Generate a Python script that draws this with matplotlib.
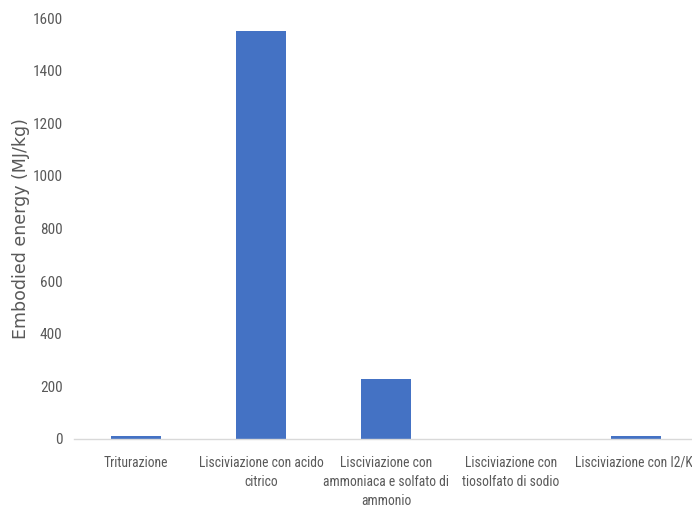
import matplotlib.pyplot as plt
from matplotlib import font_manager
import numpy as np

# embodied energy per process step
categories = [
    'Triturazione',
    'Lisciviazione con acido\ncitrico',
    'Lisciviazione con\nammoniaca e solfato di\nammonio',
    'Lisciviazione con\ntiosolfato di sodio',
    'Lisciviazione con I2/KI',
]
values = [11, 1551, 228, 0, 11]
yticks = [0, 200, 400, 600, 800, 1000, 1200, 1400, 1600]

label_gray = '#595959'

# pick a narrow face for the tick labels if one is installed
names = {f.name for f in font_manager.fontManager.ttflist}
tick_family = 'DejaVu Sans'
xsize, ysize = 8.2, 9
for cand in ['Roboto Condensed', 'Liberation Sans Narrow', 'Open Sans Condensed',
             'Noto Sans Condensed']:
    if cand in names:
        tick_family = cand
        xsize, ysize = 9.8, 11
        break

fig = plt.figure(figsize=(6.92, 5.08), dpi=100)
# right edge sits past the figure: the source image is cropped there
ax = fig.add_axes([73.5 / 692, 69 / 508, 625 / 692, 421 / 508])

x = np.arange(len(categories))
ax.bar(x, values, width=0.4, color='#4472C4')

ax.set_xlim(-0.5, len(categories) - 0.5)
ax.set_ylim(0, 1600)
ax.set_yticks(yticks)
ax.set_xticks(x)
ax.set_xticklabels(categories, color=label_gray, linespacing=1.45,
                   family=tick_family, fontsize=xsize)
ax.set_yticklabels([str(v) for v in yticks], color=label_gray,
                   family=tick_family, fontsize=ysize)

for s in ['top', 'right', 'left']:
    ax.spines[s].set_visible(False)
ax.spines['bottom'].set_color('#D9D9D9')
ax.spines['bottom'].set_linewidth(1.0)
ax.tick_params(axis='both', length=0)
ax.tick_params(axis='x', pad=12)
ax.tick_params(axis='y', pad=8)

ax.set_ylabel('Embodied energy (MJ/kg)', fontsize=12.5, color=label_gray)
ax.yaxis.set_label_coords(-0.07, 0.5)

fig.savefig('out.png', dpi=100)
